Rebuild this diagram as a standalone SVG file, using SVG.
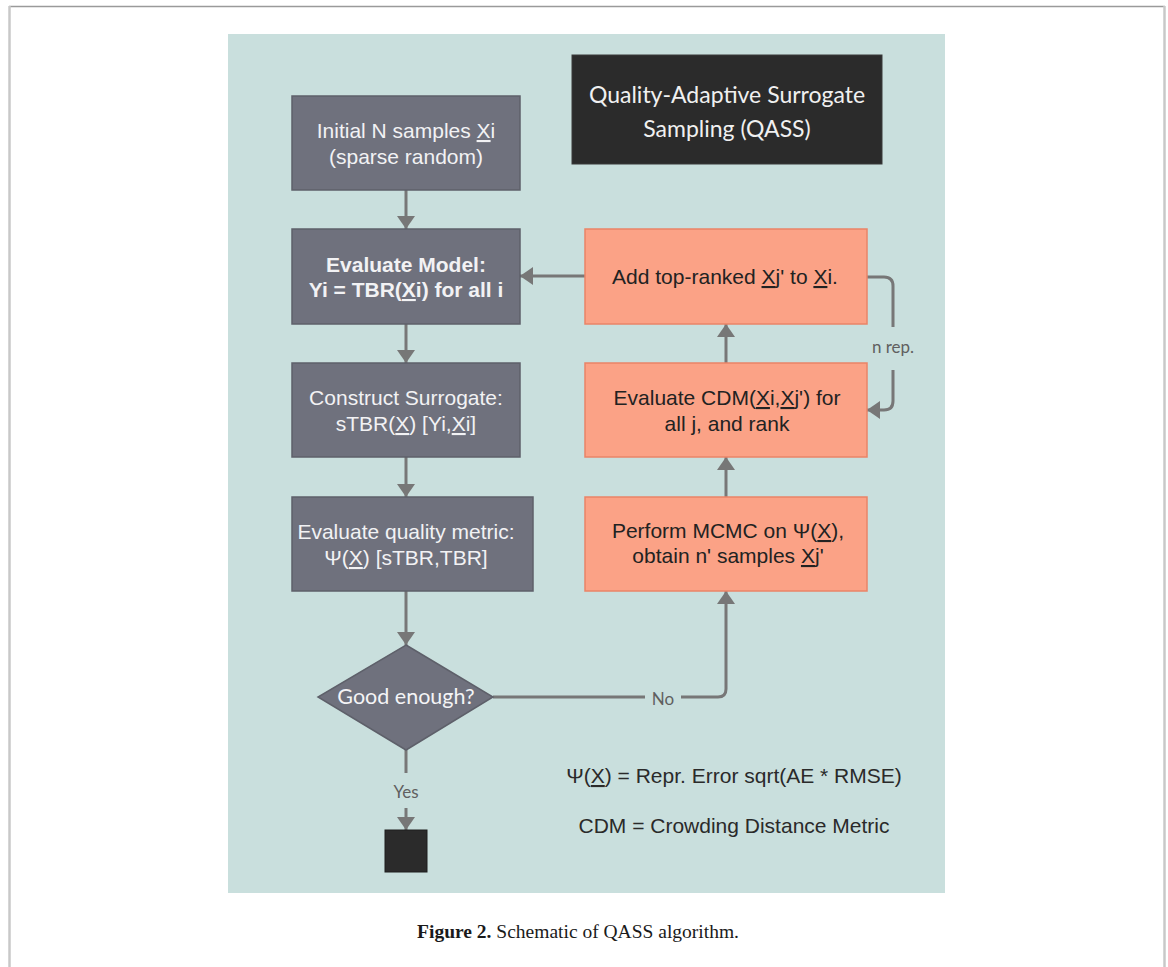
<svg xmlns="http://www.w3.org/2000/svg" width="1168" height="967" viewBox="0 0 1168 967">
<style>
.gbox{fill:#6f717d;stroke:#5e606a;stroke-width:1.5;}
.obox{fill:#fba286;stroke:#ea8467;stroke-width:1.5;}
.gt{font-family:"Liberation Sans",Arial,sans-serif;font-size:21px;fill:#f2f2f4;text-anchor:middle;}
.ot{font-family:"Liberation Sans",Arial,sans-serif;font-size:21px;fill:#222222;text-anchor:middle;}
.lato{font-family:Lato,"Liberation Sans",sans-serif;}
.conn{fill:none;stroke:#777777;stroke-width:3;}
.lbl{font-family:Lato,"Liberation Sans",sans-serif;font-size:17px;fill:#606060;text-anchor:middle;}
.note{font-family:"Liberation Sans",Arial,sans-serif;font-size:21px;fill:#2a2a2a;text-anchor:middle;}
.u{text-decoration:underline;}
</style>
<defs>
<marker id="ah" markerUnits="userSpaceOnUse" markerWidth="14" markerHeight="18" refX="13" refY="9" orient="auto">
<path d="M0,0 L13,9 L0,18 z" fill="#777777"/>
</marker>
</defs>
<rect width="1168" height="967" fill="#ffffff"/>
<line x1="9" y1="6.5" x2="1165" y2="6.5" stroke="#9a9a9a" stroke-width="1.5"/>
<line x1="9.5" y1="6" x2="9.5" y2="967" stroke="#c8c8c8" stroke-width="2.5"/>
<line x1="1164.5" y1="6" x2="1164.5" y2="967" stroke="#c8c8c8" stroke-width="2.5"/>
<rect x="228" y="34" width="717" height="859" fill="#c9dfdd"/>

<g id="connectors">
<line class="conn" x1="406" y1="190" x2="406" y2="229" marker-end="url(#ah)"/>
<line class="conn" x1="406" y1="324" x2="406" y2="363" marker-end="url(#ah)"/>
<line class="conn" x1="406" y1="457" x2="406" y2="497" marker-end="url(#ah)"/>
<line class="conn" x1="406" y1="591" x2="406" y2="645" marker-end="url(#ah)"/>
<line class="conn" x1="406" y1="750" x2="406" y2="773"/>
<line class="conn" x1="406" y1="808" x2="406" y2="830" marker-end="url(#ah)"/>
<text class="lbl" x="406" y="798">Yes</text>
<line class="conn" x1="493" y1="697" x2="645" y2="697"/>
<path class="conn" d="M681,697 H718 Q726,697 726,689 V591" marker-end="url(#ah)"/>
<text class="lbl" x="663" y="705">No</text>
<line class="conn" x1="726" y1="497" x2="726" y2="457" marker-end="url(#ah)"/>
<line class="conn" x1="726" y1="363" x2="726" y2="324" marker-end="url(#ah)"/>
<line class="conn" x1="585" y1="276" x2="520" y2="276" marker-end="url(#ah)"/>
<path class="conn" d="M867,277 H884 Q893,277 893,286 V327"/>
<path class="conn" d="M893,370 V401 Q893,410 884,410 H867" marker-end="url(#ah)"/>
<text class="lbl" x="893" y="353">n rep.</text>
</g>

<g id="title">
<rect x="572" y="55" width="310" height="109" fill="#2b2b2b" stroke="#3a3a3a" stroke-width="1"/>
<text class="lato" x="727" y="103" font-size="23" fill="#f0f0f0" text-anchor="middle">Quality-Adaptive Surrogate</text>
<text class="lato" x="727" y="137" font-size="23" fill="#f0f0f0" text-anchor="middle">Sampling (QASS)</text>
</g>

<g id="initial">
<rect class="gbox" x="292" y="96" width="228" height="94"/>
<text class="gt" x="406" y="138">Initial N samples <tspan class="u">X</tspan>i</text>
<text class="gt" x="406" y="164">(sparse random)</text>
</g>

<g id="evalmodel">
<rect class="gbox" x="292" y="229" width="228" height="95"/>
<text class="gt" x="406" y="272" font-weight="bold">Evaluate Model:</text>
<text class="gt" x="406" y="297" font-weight="bold">Yi = TBR(<tspan class="u">X</tspan>i) for all i</text>
</g>

<g id="surrogate">
<rect class="gbox" x="292" y="363" width="228" height="94"/>
<text class="gt" x="406" y="405">Construct Surrogate:</text>
<text class="gt" x="406" y="431">sTBR(<tspan class="u">X</tspan>) [Yi,<tspan class="u">X</tspan>i]</text>
</g>

<g id="quality">
<rect class="gbox" x="292" y="497" width="241" height="94"/>
<text class="gt" x="406" y="539">Evaluate quality metric:</text>
<text class="gt" x="406" y="565">Ψ(<tspan class="u">X</tspan>) [sTBR,TBR]</text>
</g>

<g id="decision">
<polygon points="406,645 493,697 406,750 318,697" fill="#6f717d" stroke="#5e606a" stroke-width="1.5"/>
<text class="lato" x="406" y="704" font-size="21.5" fill="#f4f4f6" text-anchor="middle">Good enough?</text>
</g>

<g id="end">
<rect x="385" y="830" width="42" height="42" fill="#2b2b2b" stroke="#1e1e1e" stroke-width="1"/>
</g>

<g id="add">
<rect class="obox" x="585" y="229" width="282" height="95"/>
<text class="ot" x="725" y="284">Add top-ranked <tspan class="u">X</tspan>j' to <tspan class="u">X</tspan>i.</text>
</g>

<g id="cdm">
<rect class="obox" x="585" y="363" width="282" height="94"/>
<text class="ot" x="727" y="405">Evaluate CDM(<tspan class="u">X</tspan>i,<tspan class="u">X</tspan>j') for</text>
<text class="ot" x="727" y="431">all j, and rank</text>
</g>

<g id="mcmc">
<rect class="obox" x="585" y="497" width="282" height="94"/>
<text class="ot" x="728" y="538">Perform MCMC on Ψ(<tspan class="u">X</tspan>),</text>
<text class="ot" x="728" y="563">obtain n' samples <tspan class="u">X</tspan>j'</text>
</g>

<g id="notes">
<text class="note" x="734" y="783">Ψ(<tspan class="u">X</tspan>) = Repr. Error sqrt(AE * RMSE)</text>
<text class="note" x="734" y="833">CDM = Crowding Distance Metric</text>
</g>

<g id="caption">
<text x="578" y="938" font-family="'Liberation Serif','Times New Roman',serif" font-size="19.5" fill="#1a1a1a" text-anchor="middle"><tspan font-weight="bold">Figure 2.</tspan> Schematic of QASS algorithm.</text>
</g>
</svg>
